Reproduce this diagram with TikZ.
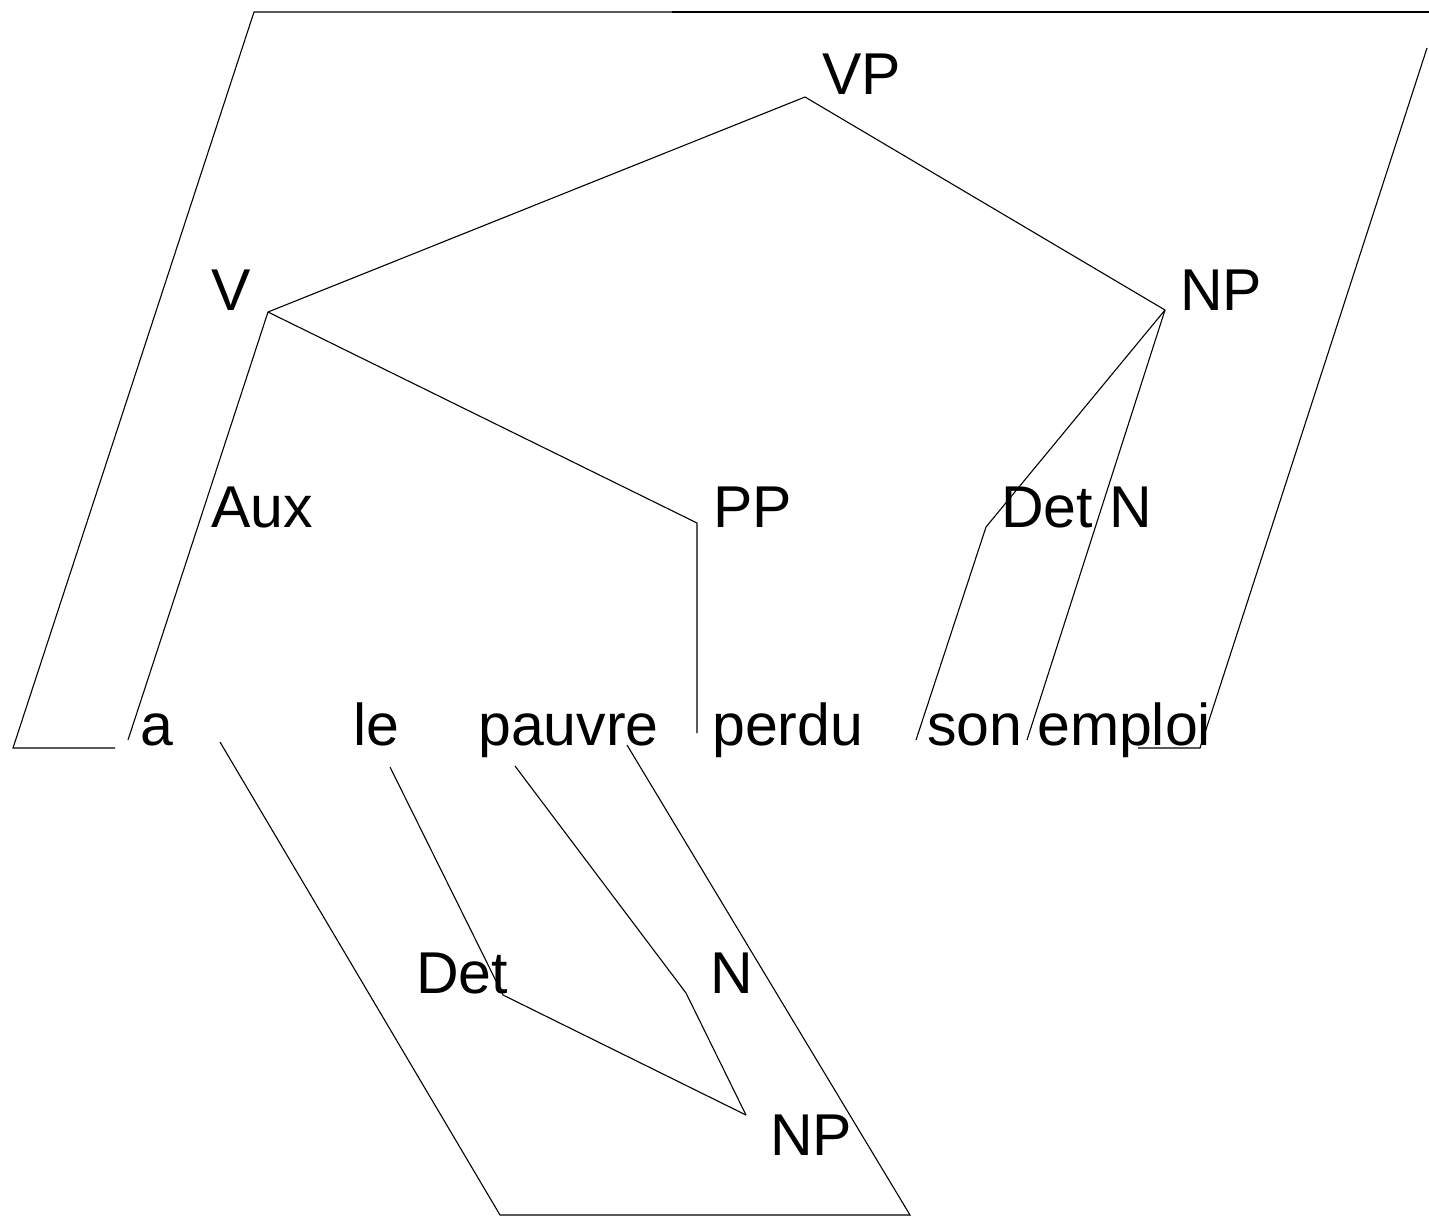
\documentclass[tikz,border=0pt]{standalone}
\usepackage{fontspec}
\setmainfont{Liberation Sans}
\begin{document}
\begin{tikzpicture}[x=1pt,y=-1pt,
  lbl/.style={anchor=base west,inner sep=0pt,font=\fontsize{59}{62}\selectfont},
  edge/.style={line width=1.1pt,line join=miter},
  frame/.style={line width=1.1pt}]
\useasboundingbox (0,0) rectangle (1429,1218);

% category labels
\node[lbl] (VP)   at (822,94)   {VP};
\node[lbl] (V)    at (211,310)  {V};
\node[lbl] (NP)   at (1180,310) {NP};
\node[lbl] (Aux)  at (211,527)  {Aux};
\node[lbl] (PP)   at (713,527)  {PP};
\node[lbl] (Det)  at (1001,527) {Det};
\node[lbl] (N)    at (1109,527) {N};
\node[lbl] (Det2) at (416,993)  {Det};
\node[lbl] (N2)   at (710,993)  {N};
\node[lbl] (NP2)  at (770,1155) {NP};

% words
\node[lbl] (a)      at (140,745)  {a};
\node[lbl] (le)     at (353,745)  {le};
\node[lbl] (pauvre) at (478,745)  {pauvre};
\node[lbl] (perdu)  at (712,745)  {perdu};
\node[lbl] (son)    at (927,745)  {son};
\node[lbl] (emploi) at (1037,745) {emploi};

% branching points
\coordinate (vp)  at (805,97);
\coordinate (v)   at (268,312);
\coordinate (np)  at (1165,310);
\coordinate (pp)  at (697,523);
\coordinate (pd)  at (697,733);
\coordinate (aw)  at (128,740);
\coordinate (dt1) at (1000,510);
\coordinate (dt2) at (986,527);
\coordinate (sw)  at (916,740);
\coordinate (ew)  at (1027,740);
\coordinate (lw)  at (390,767);
\coordinate (dl)  at (503,995);
\coordinate (pw)  at (515,766);
\coordinate (nl)  at (686,993);
\coordinate (npl) at (746,1115);

% upper tree
\draw[edge] (v) -- (vp) -- (np);
\draw[edge] (v) -- (pp) -- (pd);
\draw[edge] (v) -- (aw);
\draw[edge] (np) -- (dt1) -- (dt2) -- (sw);
\draw[edge] (np) -- (ew);

% lower tree
\draw[edge] (lw) -- (dl) -- (npl);
\draw[edge] (pw) -- (nl) -- (npl);

% enclosing outlines
\coordinate (f1) at (115,748);
\coordinate (f2) at (13,748);
\coordinate (f3) at (254,12);
\coordinate (f4) at (1429,12);
\coordinate (f5) at (672,12);
\coordinate (g1) at (1427,48);
\coordinate (g2) at (1200,748);
\coordinate (g3) at (1138,748);
\draw[frame] (f1) -- (f2) -- (f3) -- (f4);
\draw[line width=2.4pt] (f5) -- (f4);
\draw[frame] (g1) -- (g2) -- (g3);

\coordinate (h1) at (627,745);
\coordinate (h2) at (910,1215);
\coordinate (h3) at (500,1215);
\coordinate (h4) at (220,742);
\draw[frame] (h1) -- (h2) -- (h3) -- (h4);
\end{tikzpicture}
\end{document}
